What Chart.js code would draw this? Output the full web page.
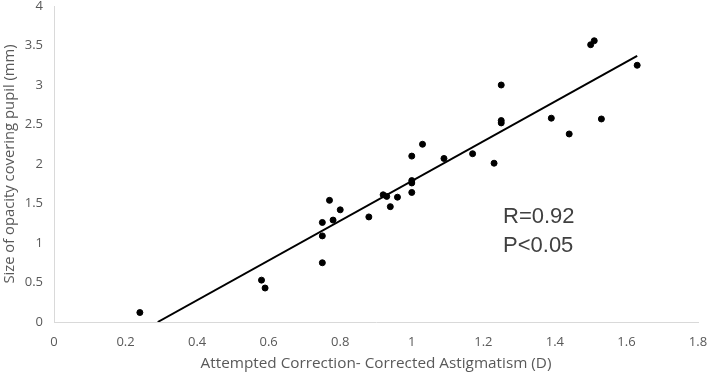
<!DOCTYPE html>
<html>
<head>
<meta charset="utf-8">
<script src="https://cdn.jsdelivr.net/npm/chart.js@4/dist/chart.umd.min.js"></script>
<style>
  html, body { margin: 0; padding: 0; background: #ffffff; }
  #wrap { width: 709px; height: 375px; }
</style>
</head>
<body>
<div id="wrap"><canvas id="c" width="709" height="375"></canvas></div>
<script>
// Data
const xValues = [0.24, 0.58, 0.59, 0.75, 0.75, 0.75, 0.77, 0.78, 0.80, 0.88, 0.92, 0.93, 0.94, 0.96, 1.00, 1.00, 1.00, 1.00, 1.03, 1.09, 1.17, 1.23, 1.25, 1.25, 1.25, 1.39, 1.44, 1.50, 1.51, 1.53, 1.63];
const yValues = [0.12, 0.53, 0.43, 0.75, 1.09, 1.26, 1.54, 1.29, 1.42, 1.33, 1.61, 1.59, 1.46, 1.58, 1.64, 1.76, 1.79, 2.10, 2.25, 2.07, 2.13, 2.01, 3.00, 2.52, 2.55, 2.58, 2.38, 3.51, 3.56, 2.57, 3.25];
const trendX = [0.29, 1.63];
const trendY = [0.0, 3.37];
const xTitle = 'Attempted Correction- Corrected Astigmatism (D)';
const yTitle = 'Size of opacity covering pupil (mm)';
const annotations = ['R=0.92', 'P<0.05'];

const points = xValues.map((x, i) => ({ x: x, y: yValues[i] }));
const trend = trendX.map((x, i) => ({ x: x, y: trendY[i] }));
const fmt = (v) => String(Number(Number(v).toFixed(1)));

const textPlugin = {
  id: 'statText',
  afterDatasetsDraw(chart) {
    const ctx = chart.ctx;
    const xs = chart.scales.x, ys = chart.scales.y;
    ctx.save();
    ctx.fillStyle = '#404040';
    ctx.font = '22px "Liberation Sans", Arial, sans-serif';
    ctx.textAlign = 'left';
    ctx.textBaseline = 'alphabetic';
    const x0 = xs.getPixelForValue(1.255);
    ctx.fillText(annotations[0], x0, ys.getPixelForValue(1.25));
    ctx.fillText(annotations[1], x0, ys.getPixelForValue(0.89));
    ctx.restore();
  }
};

new Chart(document.getElementById('c'), {
  type: 'scatter',
  data: {
    datasets: [
      {
        label: 'data',
        data: points,
        backgroundColor: '#000000',
        borderColor: '#000000',
        pointRadius: 3,
        pointHoverRadius: 3,
        order: 1
      },
      {
        label: 'trend',
        type: 'line',
        data: trend,
        borderColor: '#000000',
        borderWidth: 2,
        pointRadius: 0,
        fill: false,
        showLine: true,
        order: 2
      }
    ]
  },
  options: {
    responsive: false,
    animation: false,
    devicePixelRatio: 1,
    layout: { padding: { left: 0, right: 0, top: 0, bottom: 0 } },
    plugins: { legend: { display: false }, tooltip: { enabled: false } },
    scales: {
      x: {
        type: 'linear',
        min: 0, max: 1.8,
        grid: { display: false, drawTicks: false },
        border: { display: true, color: '#d9d9d9', width: 1 },
        ticks: { stepSize: 0.2, color: '#595959', padding: 12, callback: fmt, font: { family: '"Open Sans"', size: 13 } },
        title: { display: true, text: xTitle, color: '#595959', font: { family: '"Open Sans"', size: 15.3 }, padding: { top: 0, bottom: 2 } },
        afterFit(s) { s.height = 53; s.paddingLeft = 0; s.paddingRight = 11; }
      },
      y: {
        type: 'linear',
        min: 0, max: 4,
        grid: { display: false, drawTicks: false },
        border: { display: true, color: '#d9d9d9', width: 1 },
        ticks: { stepSize: 0.5, color: '#595959', padding: 11, callback: fmt, font: { family: '"Open Sans"', size: 13 } },
        title: { display: true, text: yTitle, color: '#595959', font: { family: '"Open Sans"', size: 14.8 }, padding: { top: 1, bottom: 0 } },
        afterFit(s) { s.width = 54; s.paddingTop = 6; s.paddingBottom = 0; }
      }
    }
  },
  plugins: [textPlugin]
});
</script>
</body>
</html>
